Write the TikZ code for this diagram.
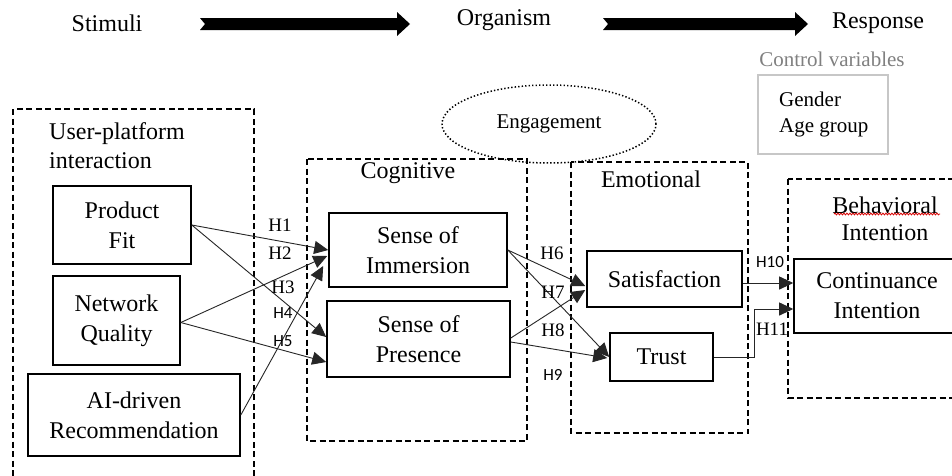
\documentclass[tikz,border=0pt]{standalone}
\usepackage{fontspec}
\setmainfont{Liberation Serif}
\newfontfamily\hsans{Carlito}
\usetikzlibrary{arrows.meta,decorations.pathmorphing,shapes.geometric}

\begin{document}
\begin{tikzpicture}[x=1pt,y=-1pt,
  txt/.style={font=\fontsize{24}{30}\selectfont, inner sep=0pt, align=center},
  sbox/.style={draw, line width=1.6pt, txt},
  dbox/.style={draw, line width=1.6pt, dash pattern=on 6pt off 3.5pt},
  link/.style={draw=black!85, line width=0.9pt, -{Triangle[length=14pt,width=13pt]}},
  hs/.style={font=\fontsize{19}{19}\selectfont, inner sep=0pt},
  hn/.style={font=\hsans\fontsize{17}{17}\selectfont, inner sep=0pt},
  smalltxt/.style={font=\fontsize{21}{26}\selectfont, inner sep=0pt}
]
\useasboundingbox (0,0) rectangle (952,475);
\clip (0,0) rectangle (952,475);
\fill[white] (0,0) rectangle (952,475);

% ---- top row: S-O-R ----
\node[txt] (stim) at (107,23) {Stimuli};
\node[txt] (org)  at (504,20) {Organism};
\node[txt] (resp) at (878,23) {Response};
\fill (200,18) -- (397,18) -- (397,12) -- (410,24) -- (397,36) -- (397,30) -- (200,30) -- (205,24) -- cycle;
\fill (603,18) -- (795,18) -- (795,12) -- (808,24) -- (795,36) -- (795,30) -- (603,30) -- (608,24) -- cycle;

% ---- control variables ----
\node[smalltxt, text=black!50] (ctrllab) at (832,59) {Control variables};
\draw[black!22, line width=1.6pt] (758,75) rectangle (888,154);
\node[smalltxt, align=left, anchor=west] (ctrl) at (779,114) {Gender\\Age group};

% ---- engagement ----
\node[draw, ellipse, line width=1.5pt, dash pattern=on 1.4pt off 2.1pt,
      minimum width=214pt, minimum height=78pt, smalltxt] (eng) at (549,124) {Engagement};

% ---- group frames ----
\draw[dbox] (13,109) rectangle (254,495);
\draw[dbox] (307,159) rectangle (527,441);
\draw[dbox] (571,162) rectangle (748,433);
\draw[dbox] (788,179) rectangle (975,398);

\node[txt, align=left, anchor=west, font=\fontsize{24}{29}\selectfont] (upl) at (49,146) {User-platform\\interaction};
\node[txt] (coglab) at (408,173) {Cognitive};
\node[txt] (emolab) at (651,179) {Emotional};
\node[txt, font=\fontsize{24}{27}\selectfont] (behlab) at (885,219) {Behavioral\\Intention};
\draw[red!85!black, line width=0.8pt, decorate, decoration={snake, amplitude=0.9pt, segment length=3pt}]
  (834,214) -- (940,214);

% ---- construct boxes ----
\node[sbox, minimum width=138pt, minimum height=78pt] (pf)    at (122,225)   {Product\\Fit};
\node[sbox, minimum width=127pt, minimum height=89pt] (nq)    at (116.5,320.5) {Network\\Quality};
\node[sbox, minimum width=212pt, minimum height=82pt] (ai)    at (134,415)   {AI-driven\\Recommendation};
\node[sbox, minimum width=178pt, minimum height=74pt] (imm)   at (418,250)   {Sense of\\Immersion};
\node[sbox, minimum width=183pt, minimum height=76pt] (pres)  at (418.5,339) {Sense of\\Presence};
\node[sbox, minimum width=155pt, minimum height=56pt] (sat)   at (664.5,279) {Satisfaction};
\node[sbox, minimum width=103pt, minimum height=48pt] (trust) at (661.5,357) {Trust};
\node[sbox, minimum width=166pt, minimum height=74pt] (cont)  at (877,296)   {Continuance\\Intention};

% ---- hypothesis paths ----
\draw[link] (pf.east) -- (imm.west);
\draw[link] (pf.east) -- ([yshift=2pt]pres.west);
\draw[link] ([yshift=-2pt]nq.east) -- ([xshift=-1pt,yshift=-6pt]imm.west);
\draw[link] ([yshift=-2pt]nq.east) -- ([yshift=-23pt]pres.west);
\draw[link] (ai.east) -- ([xshift=-5pt,yshift=-16pt]imm.west);

\draw[link] (imm.east) -- ([xshift=-1pt,yshift=-7pt]sat.west);
\draw[link] (imm.east) -- (trust.west);
\draw[link] ([yshift=1pt]pres.east) -- ([xshift=-1pt,yshift=-11pt]sat.west);
\draw[link] ([yshift=-3pt]pres.east) -- ([xshift=-2pt,yshift=-1pt]trust.west);

\draw[link] ([yshift=-4pt]sat.east) -- ([yshift=13pt]cont.west);
\draw[link] (trust.east) -- ++(41,0) |- ([yshift=-13pt]cont.west);

% ---- labels ----
\node[hs] (h1) at (280,225) {H1};
\node[hs] (h2) at (280,253) {H2};
\node[hs] (h3) at (283,287) {H3};
\node[hn] (h4) at (283,313) {H4};
\node[hn] (h5) at (283,341) {H5};
\node[hs] (h6) at (552,253) {H6};
\node[hs] (h7) at (553,292) {H7};
\node[hs] (h8) at (553,330) {H8};
\node[hn] (h9) at (553,375) {H9};
\node[hn] (h10) at (770,262) {H10};
\node[hs] (h11) at (772,329) {H11};
\end{tikzpicture}
\end{document}
